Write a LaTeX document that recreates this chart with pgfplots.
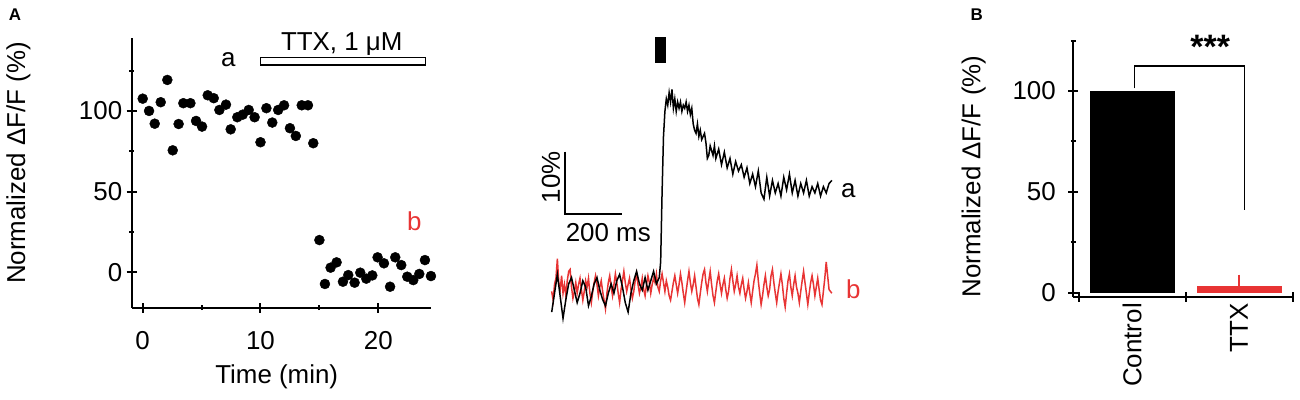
\documentclass[border=0pt]{standalone}
\usepackage{fontspec}
\setmainfont{Liberation Sans}
\usepackage{pgfplots}
\pgfplotsset{compat=1.18}
\definecolor{myred}{RGB}{232,52,52}
\newcommand{\bigf}{\fontsize{26}{30}\selectfont}
\begin{document}
\begin{tikzpicture}
\path[use as bounding box] (0bp,0bp) rectangle (1300bp,400bp);
\pgfplotsset{
  myaxis/.style={scale only axis, anchor=south west, clip=false,
    font=\bigf,
    tick label style={font=\bigf},
    /pgf/number format/assume math mode=true,
    axis line style={-, line width=2bp},
    every tick/.style={black, line width=2bp},
    tick align=outside,
    major tick length=10bp, minor tick length=5bp,
  },
  noarrows/.style={x axis line style={-}, y axis line style={-},
    every outer x axis line/.append style={-},
    every outer y axis line/.append style={-}},
}
% ---------------- Panel A scatter
\begin{axis}[myaxis, at={(131.7bp,92.3bp)}, width=299.6bp, height=269.4bp,
  xmin=-0.934, xmax=24.5, ymin=-21.9, ymax=145,
  axis lines=left, noarrows,
  xtick={0,10,20}, minor xtick={5,15},
  ytick={0,50,100}, minor ytick={25,75,125},
  xticklabel shift=15bp, yticklabel shift=1bp,
  xlabel={Time (min)}, ylabel={Normalized ΔF/F (\%)},
  xlabel style={at={(rel axis cs:0.484,-0.256)}, anchor=center},
  ylabel style={at={(rel axis cs:-0.3785,0.537)}, anchor=center},
]
\addplot[only marks, mark=*, mark size=5bp, black] coordinates {
(0,107.6) (0.54,100) (1.02,92.1) (1.53,105.4) (2.09,119.2) (2.55,75.6)
(3.05,91.9) (3.45,104.8) (4.05,104.8) (4.53,93.8) (5.04,90.3) (5.52,109.7)
(6.03,107.9) (6.51,100.6) (7.07,103.9) (7.47,88.6) (8.03,96.1) (8.49,97.7)
(9.0,100.6) (9.5,96.1) (10.0,80.6) (10.5,101.7) (11.0,92.8) (11.5,100.6)
(12.0,103.5) (12.5,89.3) (13.0,84.5) (13.5,103.5) (14.03,103.5) (14.48,80.0)
(15.0,20.0) (15.47,-7.2) (15.95,2.9) (16.46,6.2) (17.0,-5.8) (17.45,-1.7)
(17.99,-6.4) (18.47,-0.2) (18.98,-3.9) (19.49,-1.9) (19.94,9.3) (20.48,5.6)
(21.0,-8.9) (21.44,9.3) (21.95,4.5) (22.46,-2.7) (22.97,-4.8) (23.48,-1.0)
(23.96,7.6) (24.47,-2.3)
};
\addplot[draw=black, fill=white, line width=1.5bp] coordinates {(10,128.4) (24,128.4) (24,133.2) (10,133.2)} -- cycle;
\node[anchor=base, font=\bigf] at (axis cs:16.9,137.7) {TTX, 1 μM};
\node[anchor=base, font=\bigf] at (axis cs:7.27,127.8) {a};
\node[anchor=base, font=\bigf, text=myred] at (axis cs:23.06,26.2) {b};
\end{axis}
% ---------------- Traces
\begin{axis}[myaxis, at={(551.7bp,50.3bp)}, width=283bp, height=344.9bp,
  xmin=0, xmax=1000, ymin=-10, ymax=45, hide axis]
\addplot[myred, line width=1.5bp] coordinates {
(0,-0.7) (5,-2.1) (10,0.4) (15,1.4) (20,4.5) (25,0.7) (30,-0.4) (35,1.8) (40,-1.0) (45,0.4)
(50,-1.4) (55,1.0) (60,2.5) (65,2.8) (70,0.0) (75,-1.8) (80,-0.7) (85,0.7) (90,-1.0) (95,0.4)
(100,1.4) (105,-0.4) (110,-2.1) (115,-0.7) (120,1.0) (125,0.0) (130,1.4) (135,-1.0) (140,-2.5) (145,-0.7)
(150,0.7) (155,1.8) (160,0.4) (165,-1.4) (170,0.0) (175,1.0) (180,-0.7) (185,-2.1) (190,-3.5) (195,-1.0)
(200,0.7) (205,1.8) (210,0.0) (215,-1.4) (220,0.4) (225,2.1) (230,0.7) (235,-1.0) (240,-2.5) (245,-0.4)
(250,1.0) (255,2.5) (260,0.7) (265,-0.7) (270,0.4) (275,1.4) (280,-0.4) (285,-1.8) (290,-0.7) (295,1.0)
(300,2.1) (305,0.4) (310,-1.0) (315,0.0) (320,1.4) (325,-0.4) (330,-1.4) (335,0.4) (340,1.8) (345,0.7)
(350,-1.0) (355,0.4) (360,1.4) (365,0.7) (370,2.1) (375,0.0) (380,-0.7) (385,1.0) (390,2.1) (395,0.7)
(400,-0.7) (405,1.0) (410,0.0) (415,-1.4) (420,-2.1) (425,-0.7) (430,0.7) (435,1.8) (440,0.4) (445,-1.0)
(450,0.4) (455,2.1) (460,0.7) (465,-1.0) (470,-2.5) (475,-0.7) (480,1.0) (485,2.5) (490,0.7) (495,-0.7)
(500,0.4) (505,1.8) (510,0.0) (515,-1.8) (520,-2.8) (525,-1.0) (530,0.7) (535,2.1) (540,2.8) (545,0.7)
(550,-0.7) (555,1.0) (560,2.5) (565,0.4) (570,-1.4) (575,-2.5) (580,-0.7) (585,1.0) (590,2.1) (595,0.4)
(600,-1.0) (605,0.4) (610,1.4) (615,-0.4) (620,-1.8) (625,-0.7) (630,1.4) (635,2.8) (640,1.0) (645,-0.7)
(650,0.4) (655,1.8) (660,0.0) (665,-1.0) (670,0.4) (675,1.4) (680,-0.4) (685,-1.8) (690,-0.7) (695,0.7)
(700,-1.0) (705,-2.5) (710,-0.7) (715,1.0) (720,2.1) (725,3.5) (730,1.0) (735,-1.0) (740,-2.8) (745,-1.4)
(750,0.4) (755,1.8) (760,0.0) (765,-1.4) (770,-0.4) (775,1.8) (780,2.8) (785,0.7) (790,-1.0) (795,-2.5)
(800,-0.7) (805,0.7) (810,2.1) (815,0.4) (820,-1.8) (825,-3.2) (830,-1.0) (835,1.0) (840,2.1) (845,0.0)
(850,-1.4) (855,0.4) (860,1.8) (865,0.0) (870,-1.0) (875,-2.5) (880,-0.7) (885,1.0) (890,2.5) (895,0.7)
(900,-1.0) (905,-2.8) (910,-1.0) (915,0.7) (920,1.8) (925,0.4) (930,-1.4) (935,0.0) (940,1.4) (945,-0.4)
(950,-2.1) (955,-2.8) (960,-0.7) (965,1.4) (970,4.0) (975,1.8) (980,-0.4) (985,-0.7) (990,-1.0)
};
\addplot[black, line width=1.5bp] coordinates {
(0,-4.0) (10,-1.0) (20,2.0) (30,-1.5) (40,-5.0) (50,-2.0) (60,0.5) (70,1.5) (80,-0.5) (90,-2.5)
(100,-1.0) (110,1.0) (120,0.0) (130,-3.0) (140,-1.5) (150,0.5) (160,1.5) (170,-0.5) (180,-2.0) (190,-3.0)
(200,-1.0) (210,0.5) (220,-1.0) (230,1.0) (240,2.0) (250,0.0) (260,-2.5) (270,-4.0) (280,-1.0) (290,1.0)
(300,2.5) (310,0.5) (320,-0.5) (330,1.5) (340,-0.5) (350,1.0) (360,2.5) (370,0.5) (380,1.5)
(385,4) (390,15) (395,24) (400,28) (405,30.0) (410,29.0) (415,31.0) (420,29.5) (425,31.5) (430,28.5)
(435,30.0) (440,28.0) (445,29.5) (450,28.5) (455,29.5) (460,28.0) (465,29.0) (470,28.5) (475,29.5) (480,28.0)
(485,29.0) (490,27.5) (495,28.5) (500,26.0) (505,25.0) (510,24.5) (515,26.0) (520,24.0) (525,25.0) (530,23.5)
(540,24.5) (545,23.0) (550,20.5) (555,21.0) (560,22.5) (570,21.0) (575,22.5) (580,20.5) (590,22.0) (600,19.5)
(610,21.5) (620,19.0) (630,20.5) (640,18.0) (650,20.0) (660,18.5) (670,19.5) (680,17.5) (690,19.0) (700,16.5)
(710,18.0) (720,16.0) (730,18.5) (740,15.0) (750,14.0) (760,17.5) (770,14.5) (780,17.0) (790,15.0) (800,16.5)
(810,14.5) (820,17.5) (830,15.5) (840,18.0) (850,15.0) (860,17.0) (870,14.5) (880,16.5) (890,15.0) (900,17.0)
(910,14.5) (920,16.0) (930,15.0) (940,16.5) (950,14.5) (960,16.0) (970,15.0) (980,16.5) (990,17.0)
};
% scale bar
\addplot[black, line width=2bp] coordinates {(47,21.6) (47,11.6) (247,11.6)};
% stimulus bar
\addplot[draw=black, fill=black] coordinates {(365,35.9) (400,35.9) (400,39.9) (365,39.9)} -- cycle;
\node[anchor=base, rotate=90, font=\bigf] at (axis cs:29,17.5) {10\%};
\node[anchor=base, font=\bigf] at (axis cs:200,7.2) {200 ms};
\node[anchor=base, font=\bigf] at (axis cs:1048,14.2) {a};
\node[anchor=base, font=\bigf, text=myred] at (axis cs:1066,-1.8) {b};
\end{axis}
% ---------------- Panel B
\begin{axis}[myaxis, at={(1073.3bp,103.3bp)}, width=219.2bp, height=256.1bp,
  xmin=-0.55, xmax=1.5, ymin=-2, ymax=125,
  axis lines=left, noarrows,
  xtick={-0.5,0.5,1.5}, xticklabels={},
  ytick={0,50,100}, minor ytick={25,75,125},
  xticklabel shift=3bp, yticklabel shift=9bp,
  extra x ticks={0,1}, extra x tick labels={Control,TTX},
  extra x tick style={major tick length=0pt, tick label style={rotate=90, anchor=east}},
  ylabel={Normalized ΔF/F (\%)},
  ylabel style={at={(rel axis cs:-0.455,0.469)}, anchor=center},
]
\addplot[ybar, bar shift=0pt, bar width=0.785, fill=black, draw=black] coordinates {(0,100)};
\addplot[ybar, bar shift=0pt, bar width=0.79, fill=myred, draw=myred,
  error bars/.cd, y dir=plus, y explicit, error mark=none,
  error bar style={myred, line width=1.5bp}] coordinates {(1,3) +- (0,6)};
\addplot[black, line width=1.5bp] coordinates {(0.02,101.3) (0.02,112.4) (1.05,112.4) (1.05,41.1)};
\node[font=\fontsize{34}{38}\selectfont\bfseries] at (axis cs:0.73,122) {***};
\end{axis}
\node[font=\fontsize{17}{20}\selectfont\bfseries] at (15bp,385bp) {A};
\node[font=\fontsize{17}{20}\selectfont\bfseries] at (976.7bp,385bp) {B};
\end{tikzpicture}
\end{document}
